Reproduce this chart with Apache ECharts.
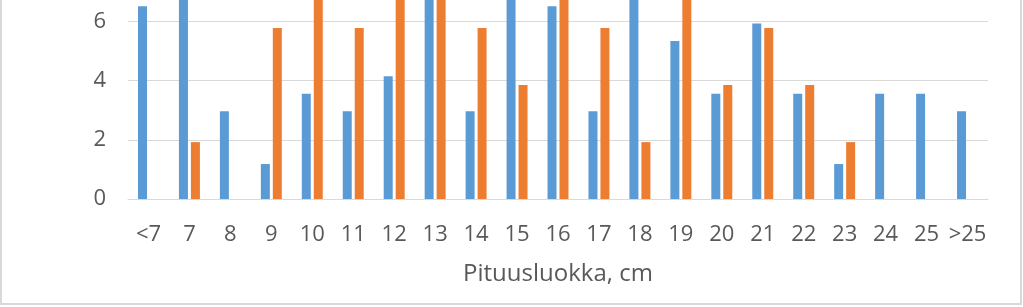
<!DOCTYPE html>
<html>
<head>
<meta charset="utf-8">
<script src="https://cdn.jsdelivr.net/npm/echarts@6/dist/echarts.min.js"></script>
<style>
html,body{margin:0;padding:0;background:#fff;}
#c{width:1023px;height:307px;}
</style>
</head>
<body>
<div id="c"></div>
<script>
const categories = ['<7','7','8','9','10','11','12','13','14','15','16','17','18','19','20','21','22','23','24','25','>25'];
const seriesA = [6.51, 8.28, 2.96, 1.18, 3.55, 2.96, 4.14, 10.65, 2.96, 9.47, 6.51, 2.96, 8.28, 5.33, 3.55, 5.92, 3.55, 1.18, 3.55, 3.55, 2.96];
const seriesB = [0, 1.92, 0, 5.77, 7.69, 5.77, 9.62, 15.38, 5.77, 3.85, 11.54, 5.77, 1.92, 9.62, 3.85, 5.77, 3.85, 1.92, 0, 0, 0];
const yTicks = [0, 2, 4, 6, 8];

const font = 'Open Sans';
const chart = echarts.init(document.getElementById('c'), null, {renderer: 'canvas'});
chart.setOption({
  animation: false,
  backgroundColor: '#fff',
  graphic: [{
    type: 'rect',
    shape: {x: 1, y: -10, width: 1020, height: 314},
    style: {fill: 'none', stroke: '#d9d9d9', lineWidth: 2},
    silent: true
  }],
  grid: {left: 128, right: 35, top: -38, bottom: 108, outerBoundsMode: 'none', containLabel: false},
  xAxis: {
    type: 'category',
    data: categories,
    axisTick: {show: false},
    axisLine: {lineStyle: {color: '#d9d9d9', width: 1}},
    axisLabel: {color: '#595959', fontFamily: font, fontSize: 22, margin: 25, interval: 0},
    name: 'Pituusluokka, cm',
    nameLocation: 'middle',
    nameGap: 63,
    nameTextStyle: {color: '#595959', fontFamily: font, fontSize: 24}
  },
  yAxis: {
    type: 'value',
    min: yTicks[0],
    max: yTicks[yTicks.length - 1],
    interval: 2,
    axisLine: {show: false},
    axisTick: {show: false},
    axisLabel: {color: '#595959', fontFamily: font, fontSize: 22, margin: 22},
    splitLine: {lineStyle: {color: '#d9d9d9', width: 1}}
  },
  series: [
    {type: 'bar', data: seriesA, barWidth: 9, barGap: '33%', itemStyle: {color: '#5B9BD5'}},
    {type: 'bar', data: seriesB, barWidth: 9, itemStyle: {color: '#ED7D31'}}
  ]
});
</script>
</body>
</html>
